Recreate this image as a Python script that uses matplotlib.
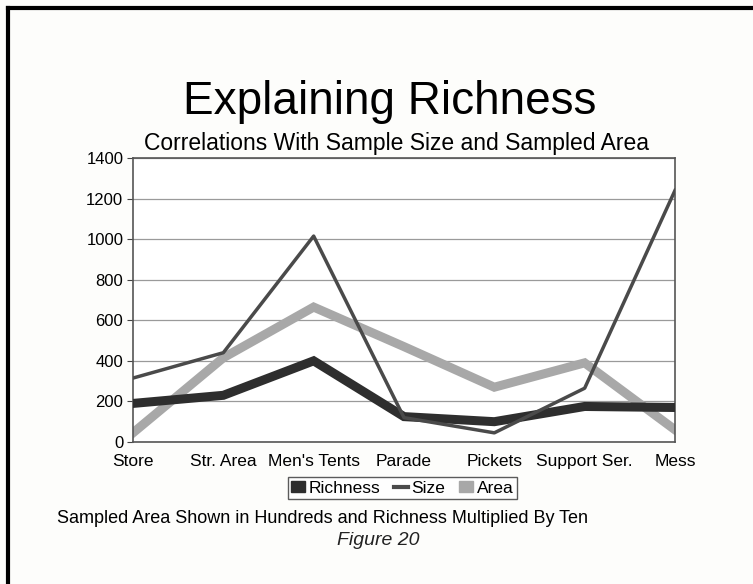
import matplotlib.pyplot as plt
from matplotlib.lines import Line2D
from matplotlib.patches import Patch

plt.rcParams['font.family'] = ['Liberation Sans', 'DejaVu Sans']

# --- Data ---
sites = ["Store", "Str. Area", "Men's Tents", "Parade", "Pickets", "Support Ser.", "Mess"]
richness = [190, 230, 400, 125, 100, 175, 170]
size = [315, 440, 1015, 120, 45, 265, 1240]
area = [45, 415, 665, 470, 270, 390, 60]
yticks = [0, 200, 400, 600, 800, 1000, 1200, 1400]

fig = plt.figure(figsize=(7.53, 5.84), dpi=100)
fig.patch.set_facecolor('#fdfdfb')

# page frame (top and left edges of the scanned sheet)
fig.add_artist(Line2D([0.011, 1.0], [0.986, 0.986], color='black', linewidth=3))
fig.add_artist(Line2D([0.011, 0.011], [0.0, 0.986], color='black', linewidth=3))

ax = fig.add_axes([0.1766, 0.2432, 0.7198, 0.4863])
ax.set_facecolor('white')
x = range(len(sites))

ax.plot(x, area, color='#a8a8a8', linewidth=6.5, solid_joinstyle='miter', zorder=2)
ax.plot(x, richness, color='#2e2e2e', linewidth=6.5, solid_joinstyle='miter', zorder=3)
ax.plot(x, size, color='#4a4a4a', linewidth=2.5, zorder=4)

ax.set_xlim(0, len(sites) - 1)
ax.set_ylim(0, 1400)
ax.set_yticks(yticks)
ax.set_xticks(list(x))
ax.set_xticklabels(sites, fontsize=12.5)
ax.tick_params(axis='y', labelsize=12, length=4, color='#444', pad=3)
ax.tick_params(axis='x', length=0, pad=9)
ax.yaxis.grid(True, color='#9a9a9a', linewidth=0.9)
ax.set_axisbelow(True)
for s in ax.spines.values():
    s.set_color('#555')
    s.set_linewidth(1.2)

fig.text(0.518, 0.826, "Explaining Richness", ha='center', va='center', fontsize=33)
fig.text(0.526, 0.755, "Correlations With Sample Size and Sampled Area", ha='center',
         va='center', fontsize=16.5)

handles = [Patch(facecolor='#2e2e2e', edgecolor='#2e2e2e'),
           Line2D([0], [0], color='#4a4a4a', linewidth=3),
           Patch(facecolor='#a8a8a8', edgecolor='#a8a8a8')]
leg = fig.legend(handles, ["Richness", "Size", "Area"], loc='center',
                 bbox_to_anchor=(0.534, 0.164), ncol=3, fontsize=12.5, frameon=True,
                 fancybox=False, handlelength=0.8, handleheight=0.6,
                 handletextpad=0.2, columnspacing=0.8, borderpad=0.2)
leg.get_frame().set_edgecolor('#333')
leg.get_frame().set_linewidth(1.0)

fig.text(0.076, 0.113, "Sampled Area Shown in Hundreds and Richness Multiplied By Ten",
         ha='left', va='center', fontsize=13)
fig.text(0.502, 0.075, "Figure 20", ha='center', va='center', fontsize=14,
         style='italic', color='#222')

fig.savefig("out.png", dpi=100, facecolor=fig.get_facecolor())
